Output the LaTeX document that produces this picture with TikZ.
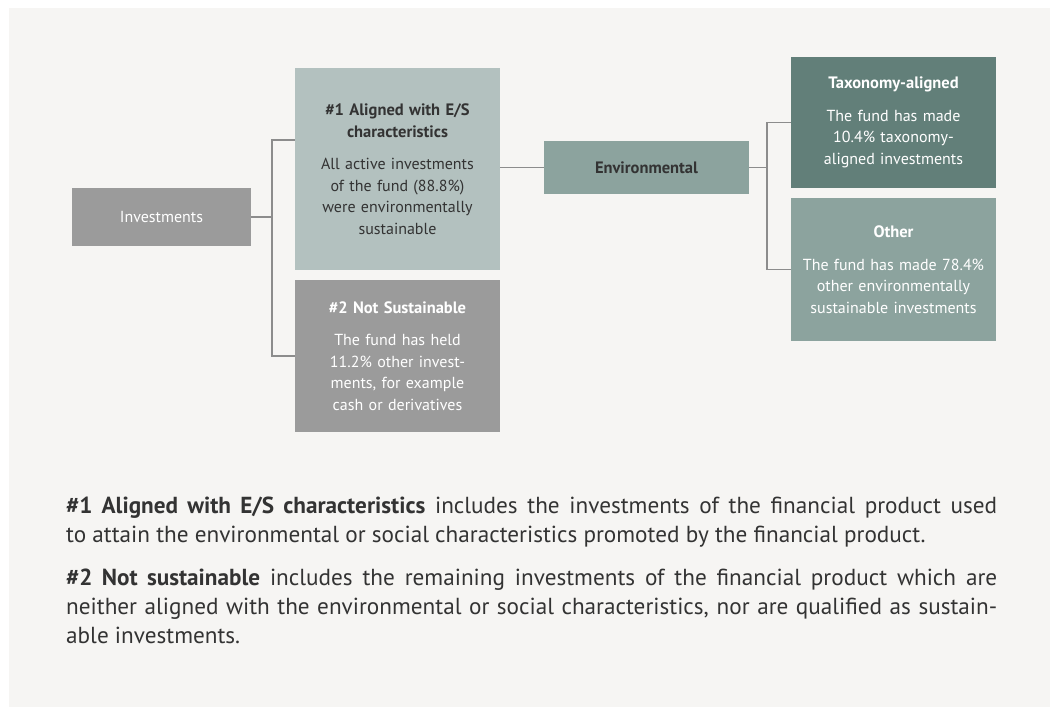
\documentclass[tikz,border=0pt]{standalone}
\usepackage{fontspec}
\setmainfont{PT Sans}
\usepackage{tikz}
\usetikzlibrary{positioning,calc}
\definecolor{bggray}{HTML}{F6F5F3}
\definecolor{boxgray}{HTML}{9B9B9B}
\definecolor{boxsage}{HTML}{B3C1BF}
\definecolor{boxteal}{HTML}{8CA39E}
\definecolor{boxdark}{HTML}{627F79}
\definecolor{linegray}{HTML}{8C8C8C}
\definecolor{inkdark}{HTML}{333333}
\newcommand{\stagetext}[2]{{\fontsize{16.5}{20}\selectfont\bfseries #1}\\[11pt]#2}

\begin{document}
\begin{tikzpicture}[x=1pt, y=-1pt,
  every node/.style={align=center, inner sep=0pt, font=\fontsize{16}{21.5}\selectfont},
  stage/.style={minimum width=205pt, text width=205pt},
  link/.style={draw=linegray, line width=1.5pt},
  foot/.style={text width=931pt, align=justify, text=inkdark, font=\fontsize{23.2}{29}\selectfont}
]
\useasboundingbox (0,0) rectangle (1050,707);
\fill[bggray] (9,8) rectangle (1050,707);

\node[fill=boxgray, text=white, minimum width=179pt, minimum height=58pt] (inv) at (161.5,217) {Investments};
\node[stage, fill=boxsage, text=inkdark, minimum height=202pt] (al) at (397.5,169) {\stagetext{\#1 Aligned with E/S\\characteristics}{All active investments\\of the fund (88.8\%)\\were environmentally\\sustainable}};
\node[stage, fill=boxgray, text=white, minimum height=152pt] (ns) at (397.5,356) {\stagetext{\#2 Not Sustainable}{The fund has held\\11.2\% other invest-\\ments, for example\\cash or derivatives}};
\node[stage, fill=boxteal, text=inkdark, minimum height=53pt, font=\fontsize{16.5}{21.5}\selectfont\bfseries] (env) at (646.5,167.5) {Environmental};
\node[stage, fill=boxdark, text=white, minimum height=131pt] (tax) at (893.5,122.5) {\stagetext{Taxonomy-aligned}{The fund has made\\10.4\% taxonomy-\\aligned investments}};
\node[stage, fill=boxteal, text=white, minimum height=143pt] (oth) at (893.5,269.5) {\stagetext{Other}{The fund has made 78.4\%\\other environmentally\\sustainable investments}};

\draw[link] (inv.east) -- ++(21pt,0) |- ([yshift=29pt]al.west);
\draw[link] (inv.east) -- ++(21pt,0) |- (ns.west);
\draw[link] (al.east |- env.west) -- (env.west);
\draw[link] (env.east) -- ++(18pt,0) |- (tax.west);
\draw[link] (env.east) -- ++(18pt,0) |- (oth.west);

\node[foot, anchor=north west] (foot1) at (66,497) {\textbf{\#1 Aligned with E/S characteristics} includes the investments of the financial product used\linebreak to attain the environmental or social characteristics promoted by the financial product.};
\node[foot, below=21pt of foot1.south west, anchor=north west] (foot2) {\textbf{\#2 Not sustainable} includes the remaining investments of the financial product which are\linebreak neither aligned with the environmental or social characteristics, nor are qualified as sustain-\linebreak able investments.};
\end{tikzpicture}
\end{document}
